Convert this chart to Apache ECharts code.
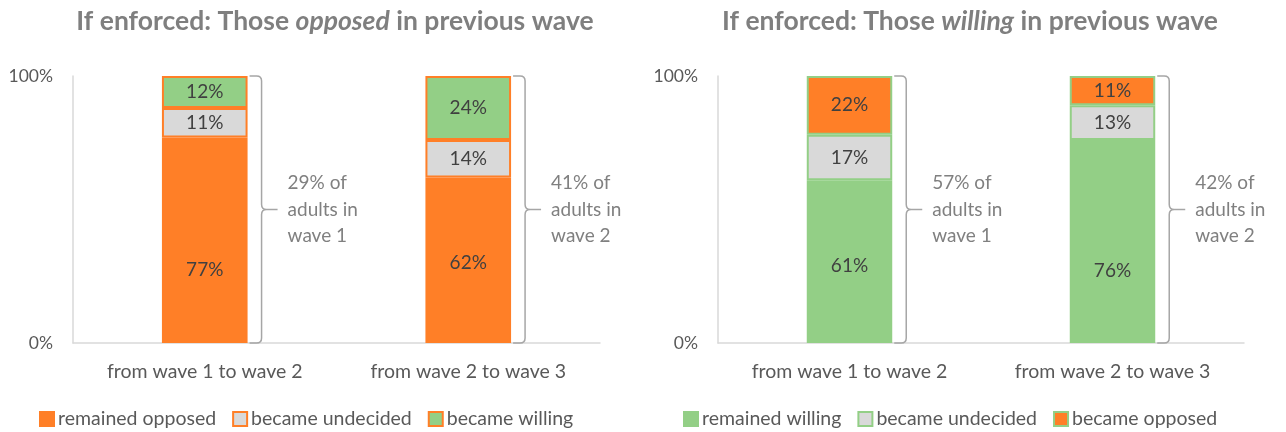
<!DOCTYPE html>
<html>
<head>
<meta charset="utf-8">
<script src="https://cdn.jsdelivr.net/npm/echarts@6/dist/echarts.min.js"></script>
<style>
  html, body { margin: 0; padding: 0; background: #ffffff; }
  #wrap { width: 1286px; height: 432px; display: flex; }
  .panel { width: 643px; height: 432px; }
</style>
</head>
<body>
<div id="wrap">
  <div id="left" class="panel"></div>
  <div id="right" class="panel"></div>
</div>
<script>
// Transition categories shared by both panels
const categories = ['from wave 1 to wave 2', 'from wave 2 to wave 3'];

// Panel 1: those opposed in the previous wave (%)
const opposedRemained = [77, 62];
const opposedUndecided = [11, 14];
const opposedWilling = [12, 24];
const opposedShare = ['29%', '41%'];

// Panel 2: those willing in the previous wave (%)
const willingRemained = [61, 76];
const willingUndecided = [17, 13];
const willingOpposed = [22, 11];
const willingShare = ['57%', '42%'];

const baseWaves = ['wave 1', 'wave 2'];

const ORANGE = '#ff7f27';
const GREEN = '#93cf86';
const GREY = '#d9d9d9';
const FONT = 'Lato, "Open Sans", sans-serif';

function buildOption(p) {
  const barW = 0.325; // bar width as share of the category band
  const stackSeries = p.series.map(function (s) {
    return {
      name: s.name,
      type: 'bar',
      stack: 'total',
      barWidth: (barW * 100) + '%',
      data: s.values.map(function (v, i) {
        return {
          value: v,
          label: { offset: [0, (s.nudge && s.nudge[i]) || 0] }
        };
      }),
      itemStyle: { color: s.color, borderColor: p.edge, borderWidth: 2 },
      label: {
        show: true,
        position: 'inside',
        formatter: '{c}%',
        color: '#404040',
        fontFamily: FONT,
        fontSize: 19
      },
      emphasis: { disabled: true }
    };
  });

  // Brace to the right of each bar with the base share of adults
  const braceSeries = {
    type: 'custom',
    silent: true,
    data: categories.map(function (c, i) { return [i, 0, 100]; }),
    encode: { x: 0, y: [1, 2] },
    renderItem: function (params, api) {
      const idx = api.value(0);
      const top = api.coord([idx, api.value(2)]);
      const bot = api.coord([idx, api.value(1)]);
      const band = api.size([1, 0])[0];
      const cx = top[0];
      const x0 = cx + band * barW / 2 + 2;
      const vx = cx + band * barW / 2 + 14;
      const y0 = top[1], y1 = bot[1];
      const mid = (y0 + y1) / 2;
      const r = 5;
      const d = 'M' + x0 + ' ' + y0 +
        ' L' + (vx - r) + ' ' + y0 +
        ' Q' + vx + ' ' + y0 + ' ' + vx + ' ' + (y0 + r) +
        ' L' + vx + ' ' + (mid - 5) +
        ' Q' + vx + ' ' + mid + ' ' + (vx + 5) + ' ' + mid +
        ' Q' + vx + ' ' + mid + ' ' + vx + ' ' + (mid + 5) +
        ' L' + vx + ' ' + (y1 - r) +
        ' Q' + vx + ' ' + y1 + ' ' + (vx - r) + ' ' + y1 +
        ' L' + x0 + ' ' + y1 +
        ' M' + (vx + 5) + ' ' + mid + ' L' + (vx + 16) + ' ' + mid;
      return {
        type: 'group',
        children: [
          {
            type: 'path',
            shape: { pathData: d },
            style: { fill: null, stroke: '#a6a6a6', lineWidth: 1.5 }
          },
          {
            type: 'text',
            x: vx + 26,
            y: mid,
            style: {
              text: p.share[idx] + ' of\nadults in\n' + baseWaves[idx],
              fill: '#808080',
              font: '19px ' + FONT,
              lineHeight: 26.5,
              verticalAlign: 'middle',
              align: 'left'
            }
          }
        ]
      };
    }
  };

  return {
    animation: false,
    textStyle: { fontFamily: FONT },
    title: {
      text: '{b|If enforced: Those }{i|' + p.keyword + '}{b| in previous wave}',
      left: p.titleX,
      textAlign: 'center',
      top: 3,
      textStyle: {
        rich: {
          b: { fontFamily: FONT, fontWeight: 'bold', fontSize: 26.5, color: '#7f7f7f' },
          i: { fontFamily: FONT, fontWeight: 'bold', fontStyle: 'italic', fontSize: 26.5, color: '#7f7f7f' }
        }
      }
    },
    legend: {
      data: p.series.map(function (s) { return s.name; }),
      left: p.legendX,
      top: 409,
      padding: 0,
      icon: 'rect',
      itemWidth: 14,
      itemHeight: 14,
      itemGap: 16,
      textStyle: { color: '#595959', fontFamily: FONT, fontSize: 19.5, padding: [0, 0, 0, -1] },
      selectedMode: false
    },
    grid: { left: p.gridLeft, right: p.gridRight, top: 76, bottom: 89 },
    xAxis: {
      type: 'category',
      data: categories,
      axisLine: { lineStyle: { color: '#d9d9d9', width: 1.5 } },
      axisTick: { show: false },
      axisLabel: { color: '#595959', fontFamily: FONT, fontSize: 19.5, margin: 19 }
    },
    yAxis: {
      type: 'value',
      min: 0,
      max: 100,
      interval: 100,
      axisLine: { show: true, lineStyle: { color: '#d9d9d9', width: 1.5 } },
      axisTick: { show: false },
      splitLine: { show: false },
      axisLabel: { formatter: '{value}%', color: '#595959', fontFamily: FONT, fontSize: 17.5, margin: 20 }
    },
    series: stackSeries.concat([braceSeries])
  };
}

const leftChart = echarts.init(document.getElementById('left'), null, { renderer: 'canvas' });
leftChart.setOption(buildOption({
  keyword: 'opposed',
  titleX: 330,
  legendX: 39,
  gridLeft: 73,
  gridRight: 43,
  edge: ORANGE,
  share: opposedShare,
  series: [
    { name: 'remained opposed', values: opposedRemained, color: ORANGE, nudge: [30, 3] },
    { name: 'became undecided', values: opposedUndecided, color: GREY },
    { name: 'became willing', values: opposedWilling, color: GREEN }
  ]
}));

const rightChart = echarts.init(document.getElementById('right'), null, { renderer: 'canvas' });
rightChart.setOption(buildOption({
  keyword: 'willing',
  titleX: 322,
  legendX: 40,
  gridLeft: 75,
  gridRight: 42,
  edge: GREEN,
  share: willingShare,
  series: [
    { name: 'remained willing', values: willingRemained, color: GREEN, nudge: [4, 29] },
    { name: 'became undecided', values: willingUndecided, color: GREY },
    { name: 'became opposed', values: willingOpposed, color: ORANGE }
  ]
}));
</script>
</body>
</html>
